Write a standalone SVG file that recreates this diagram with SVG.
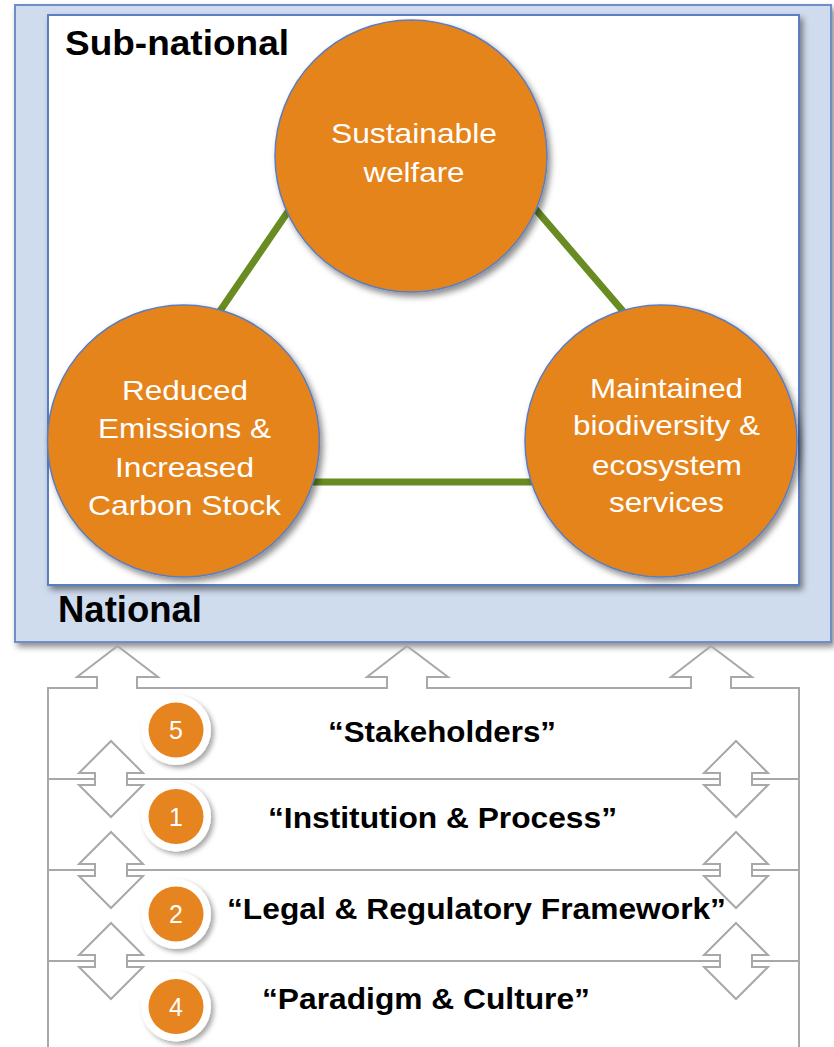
<svg xmlns="http://www.w3.org/2000/svg" width="834" height="1047" viewBox="0 0 834 1047">
<defs>
<filter id="sh" x="-20%" y="-20%" width="150%" height="150%">
<feDropShadow dx="3" dy="4" stdDeviation="3" flood-color="#000" flood-opacity="0.45"/>
</filter>
<filter id="shs" x="-30%" y="-30%" width="170%" height="170%">
<feDropShadow dx="3" dy="3" stdDeviation="2.5" flood-color="#000" flood-opacity="0.35"/>
</filter>
<style>
.big{font-family:"Liberation Sans",Arial,sans-serif;font-weight:bold;fill:#000}
.ct{font-family:"Liberation Sans",Arial,sans-serif;font-size:28px;fill:#fff;text-anchor:middle}
.lab{font-family:"Liberation Sans",Arial,sans-serif;font-weight:bold;font-size:30px;fill:#000;text-anchor:middle}
.num{font-family:"Liberation Sans",Arial,sans-serif;font-size:25px;fill:#fff;text-anchor:middle}
.node{fill:#e6841f;stroke:#5b7dbf;stroke-width:1.5}
.conn{stroke:#688c21;stroke-width:7;fill:none}
.gray{fill:none;stroke:#a8a8a8;stroke-width:2}
.darr{fill:#fff;stroke:#a8a8a8;stroke-width:2}
</style>
</defs>
<rect width="834" height="1047" fill="#fff"/>
<g id="national">
<rect x="15" y="5" width="816" height="637" fill="#cfdcee" stroke="#6f8dc5" stroke-width="2" filter="url(#sh)"/>
<text class="big" x="58" y="622" font-size="36" textLength="144" lengthAdjust="spacingAndGlyphs">National</text>
</g>
<g id="subnational">
<rect x="48" y="15" width="751" height="570" fill="#fff" stroke="#5b7dbf" stroke-width="2" filter="url(#sh)"/>
<text class="big" x="65" y="55" font-size="35" textLength="224" lengthAdjust="spacingAndGlyphs">Sub-national</text>
</g>
<g id="connectors">
<line class="conn" x1="300" y1="194" x2="209.7" y2="326"/>
<line class="conn" x1="523.4" y1="195" x2="635.7" y2="326"/>
<line class="conn" x1="300" y1="482" x2="545" y2="482"/>
</g>
<g id="welfare">
<circle class="node" cx="411" cy="156" r="136" filter="url(#sh)"/>
<text class="ct" x="414" y="143" textLength="166" lengthAdjust="spacingAndGlyphs">Sustainable</text>
<text class="ct" x="414" y="182" textLength="101" lengthAdjust="spacingAndGlyphs">welfare</text>
</g>
<g id="emissions">
<circle class="node" cx="183.5" cy="441" r="136" filter="url(#sh)"/>
<text class="ct" x="185" y="400" textLength="126" lengthAdjust="spacingAndGlyphs">Reduced</text>
<text class="ct" x="184.5" y="438" textLength="173" lengthAdjust="spacingAndGlyphs">Emissions &amp;</text>
<text class="ct" x="184.5" y="477" textLength="139" lengthAdjust="spacingAndGlyphs">Increased</text>
<text class="ct" x="184.5" y="515" textLength="193" lengthAdjust="spacingAndGlyphs">Carbon Stock</text>
</g>
<g id="biodiversity">
<circle class="node" cx="661" cy="441" r="136" filter="url(#sh)"/>
<text class="ct" x="666.5" y="398" textLength="153" lengthAdjust="spacingAndGlyphs">Maintained</text>
<text class="ct" x="666.5" y="435" textLength="187" lengthAdjust="spacingAndGlyphs">biodiversity &amp;</text>
<text class="ct" x="667" y="475" textLength="150" lengthAdjust="spacingAndGlyphs">ecosystem</text>
<text class="ct" x="666.5" y="512" textLength="115" lengthAdjust="spacingAndGlyphs">services</text>
</g>
<g id="layers-frame">
<path class="gray" d="M48,1050 V688 H97 V677 H77 L117.5,646 L158,677 H137 V688 H387 V677 H367 L407,646 L448,677 H427 V688 H691 V677 H671 L711,646 L752,677 H731 V688 H799 V1050"/>
<line class="gray" x1="48" y1="779" x2="799" y2="779"/>
<line class="gray" x1="48" y1="870" x2="799" y2="870"/>
<line class="gray" x1="48" y1="961" x2="799" y2="961"/>
<polygon class="darr" points="111,741 143,773 127,773 127,785 143,785 111,817 79,785 95,785 95,773 79,773"/>
<polygon class="darr" points="736,741 768,773 752,773 752,785 768,785 736,817 704,785 720,785 720,773 704,773"/>
<polygon class="darr" points="111,832 143,864 127,864 127,876 143,876 111,908 79,876 95,876 95,864 79,864"/>
<polygon class="darr" points="736,832 768,864 752,864 752,876 768,876 736,908 704,876 720,876 720,864 704,864"/>
<polygon class="darr" points="111,923 143,955 127,955 127,967 143,967 111,999 79,967 95,967 95,955 79,955"/>
<polygon class="darr" points="736,923 768,955 752,955 752,967 768,967 736,999 704,967 720,967 720,955 704,955"/>
</g>
<g id="layer-stakeholders">
<circle cx="176" cy="730" r="35" fill="#fff" filter="url(#shs)"/>
<circle cx="176" cy="730" r="27.5" fill="#e6841f"/>
<text class="num" x="176" y="739">5</text>
<text class="lab" x="442" y="742" textLength="228" lengthAdjust="spacingAndGlyphs">“Stakeholders”</text>
</g>
<g id="layer-institution">
<circle cx="176" cy="816.5" r="35" fill="#fff" filter="url(#shs)"/>
<circle cx="176" cy="816.5" r="27.5" fill="#e6841f"/>
<text class="num" x="176" y="825.5">1</text>
<text class="lab" x="442.5" y="828" textLength="349" lengthAdjust="spacingAndGlyphs">“Institution &amp; Process”</text>
</g>
<g id="layer-legal">
<circle cx="176" cy="914" r="35" fill="#fff" filter="url(#shs)"/>
<circle cx="176" cy="914" r="27.5" fill="#e6841f"/>
<text class="num" x="176" y="923">2</text>
<text class="lab" x="476.5" y="919" textLength="499" lengthAdjust="spacingAndGlyphs">“Legal &amp; Regulatory Framework”</text>
</g>
<g id="layer-paradigm">
<circle cx="176" cy="1006.5" r="35" fill="#fff" filter="url(#shs)"/>
<circle cx="176" cy="1006.5" r="27.5" fill="#e6841f"/>
<text class="num" x="176" y="1015.5">4</text>
<text class="lab" x="426" y="1009" textLength="328" lengthAdjust="spacingAndGlyphs">“Paradigm &amp; Culture”</text>
</g>
</svg>
